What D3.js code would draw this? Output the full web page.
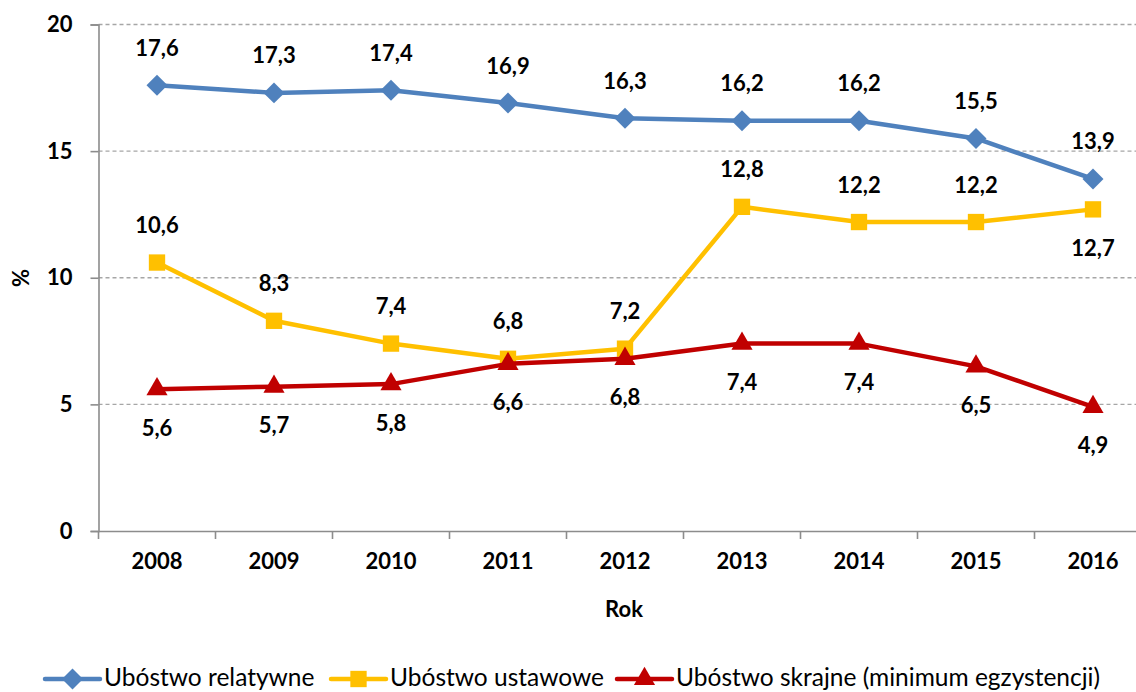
<!DOCTYPE html>
<html lang="pl">
<head>
<meta charset="UTF-8">
<title>Ubóstwo 2008-2016</title>
<script src="https://d3js.org/d3.v7.min.js"></script>
<style>
  body { margin: 0; background: #fff; }
  svg { display: block; font-family: Lato, "Open Sans", sans-serif; }
</style>
</head>
<body>
<svg id="chart" width="1136" height="692"></svg>
<script>
const years = ["2008", "2009", "2010", "2011", "2012", "2013", "2014", "2015", "2016"];
const relatywne = [17.6, 17.3, 17.4, 16.9, 16.3, 16.2, 16.2, 15.5, 13.9];
const ustawowe = [10.6, 8.3, 7.4, 6.8, 7.2, 12.8, 12.2, 12.2, 12.7];
const skrajne = [5.6, 5.7, 5.8, 6.6, 6.8, 7.4, 7.4, 6.5, 4.9];
const yTicks = [0, 5, 10, 15, 20];
const seriesNames = ["Ubóstwo relatywne", "Ubóstwo ustawowe", "Ubóstwo skrajne (minimum egzystencji)"];

const svg = d3.select("#chart");
const plotLeft = 98.5, plotRight = 1151.5, plotTop = 24.5, plotBottom = 531;

const xBand = d3.scaleBand().domain(years).range([plotLeft, plotRight]);
const x = d3.scalePoint().domain(years).range([plotLeft, plotRight]).padding(0.5);
const y = d3.scaleLinear().domain([0, 20]).range([plotBottom, plotTop]);

const fmt = v => v.toFixed(1).replace(".", ",");

// gridlines
svg.append("g").selectAll("line")
    .data(yTicks.filter(d => d > 0))
    .join("line")
    .attr("x1", plotLeft).attr("x2", plotRight)
    .attr("y1", d => y(d)).attr("y2", d => y(d))
    .attr("stroke", "#a6a6a6").attr("stroke-width", 1.3)
    .attr("stroke-dasharray", "4,3");

// y axis
const yAxis = svg.append("g").attr("transform", `translate(${plotLeft},0)`)
    .call(d3.axisLeft(y).tickValues(yTicks).tickSize(8).tickPadding(18));
yAxis.select(".domain").attr("stroke", "#8c8c8c").attr("stroke-width", 1.6);
yAxis.selectAll(".tick line").attr("stroke", "#8c8c8c").attr("stroke-width", 1.6);
yAxis.selectAll(".tick text").attr("font-size", 22).attr("font-weight", "bold")
    .attr("font-family", "Lato, sans-serif").attr("fill", "#000");

// x axis
const xAxis = svg.append("g").attr("transform", `translate(0,${plotBottom})`)
    .call(d3.axisBottom(xBand).tickSize(0).tickPadding(22));
xAxis.select(".domain").attr("stroke", "#8c8c8c").attr("stroke-width", 1.6);
xAxis.selectAll(".tick text").attr("font-size", 22).attr("font-weight", "bold")
    .attr("font-family", "Lato, sans-serif").attr("fill", "#000");
xAxis.selectAll("line.bt")
    .data(years.concat(["end"]))
    .join("line").attr("class", "bt")
    .attr("x1", (d, i) => plotLeft + i * xBand.step()).attr("x2", (d, i) => plotLeft + i * xBand.step())
    .attr("y1", 0).attr("y2", 8)
    .attr("stroke", "#8c8c8c").attr("stroke-width", 1.6);

// axis titles
svg.append("text").attr("x", 624).attr("y", 608)
    .attr("text-anchor", "middle").attr("dominant-baseline", "central")
    .attr("font-size", 22).attr("font-weight", "bold").text("Rok");
svg.append("text").attr("transform", "translate(20,278) rotate(-90)")
    .attr("text-anchor", "middle").attr("dominant-baseline", "central")
    .attr("font-size", 22).attr("font-weight", "bold").text("%");

const diamond = d3.symbol().type(d3.symbolDiamond2).size(280);
const square = d3.symbol().type(d3.symbolSquare2).size(340);
const triangle = d3.symbol().type(d3.symbolTriangle2).size(320);

const series = [
  { name: seriesNames[0], values: relatywne, color: "#4f81bd", sym: diamond, side: () => -1 },
  { name: seriesNames[1], values: ustawowe, color: "#ffc000", sym: square, side: i => i === years.length - 1 ? 1 : -1 },
  { name: seriesNames[2], values: skrajne, color: "#c00000", sym: triangle, side: () => 1 }
];

const line = d3.line().x((d, i) => x(years[i])).y(d => y(d));

series.forEach(s => {
  const g = svg.append("g");
  g.append("path").datum(s.values)
      .attr("d", line).attr("fill", "none")
      .attr("stroke", s.color).attr("stroke-width", 4.5).attr("stroke-linejoin", "round");
  g.selectAll("path.m").data(s.values).join("path").attr("class", "m")
      .attr("transform", (d, i) => `translate(${x(years[i])},${y(d)})`)
      .attr("d", s.sym).attr("fill", s.color);
});

series.forEach(s => {
  svg.append("g").selectAll("text").data(s.values).join("text")
      .attr("x", (d, i) => x(years[i]))
      .attr("y", (d, i) => y(d) + s.side(i) * 38)
      .attr("text-anchor", "middle").attr("dominant-baseline", "central")
      .attr("font-size", 22).attr("font-weight", "bold").attr("fill", "#000")
      .text(d => fmt(d));
});

// legend
const legendX = [45, 331, 617];
const legend = svg.append("g");
series.forEach((s, i) => {
  const lg = legend.append("g").attr("transform", `translate(${legendX[i]},679)`);
  lg.append("line").attr("x1", 0).attr("x2", 55).attr("y1", 0).attr("y2", 0)
      .attr("stroke", s.color).attr("stroke-width", 4.5).attr("stroke-linecap", "round");
  lg.append("path").attr("transform", "translate(27.5,0)").attr("d", s.sym).attr("fill", s.color);
  lg.append("text").attr("x", 59).attr("y", 7).attr("font-size", 24.5)
      .attr("fill", "#000").text(s.name);
});
</script>
</body>
</html>
